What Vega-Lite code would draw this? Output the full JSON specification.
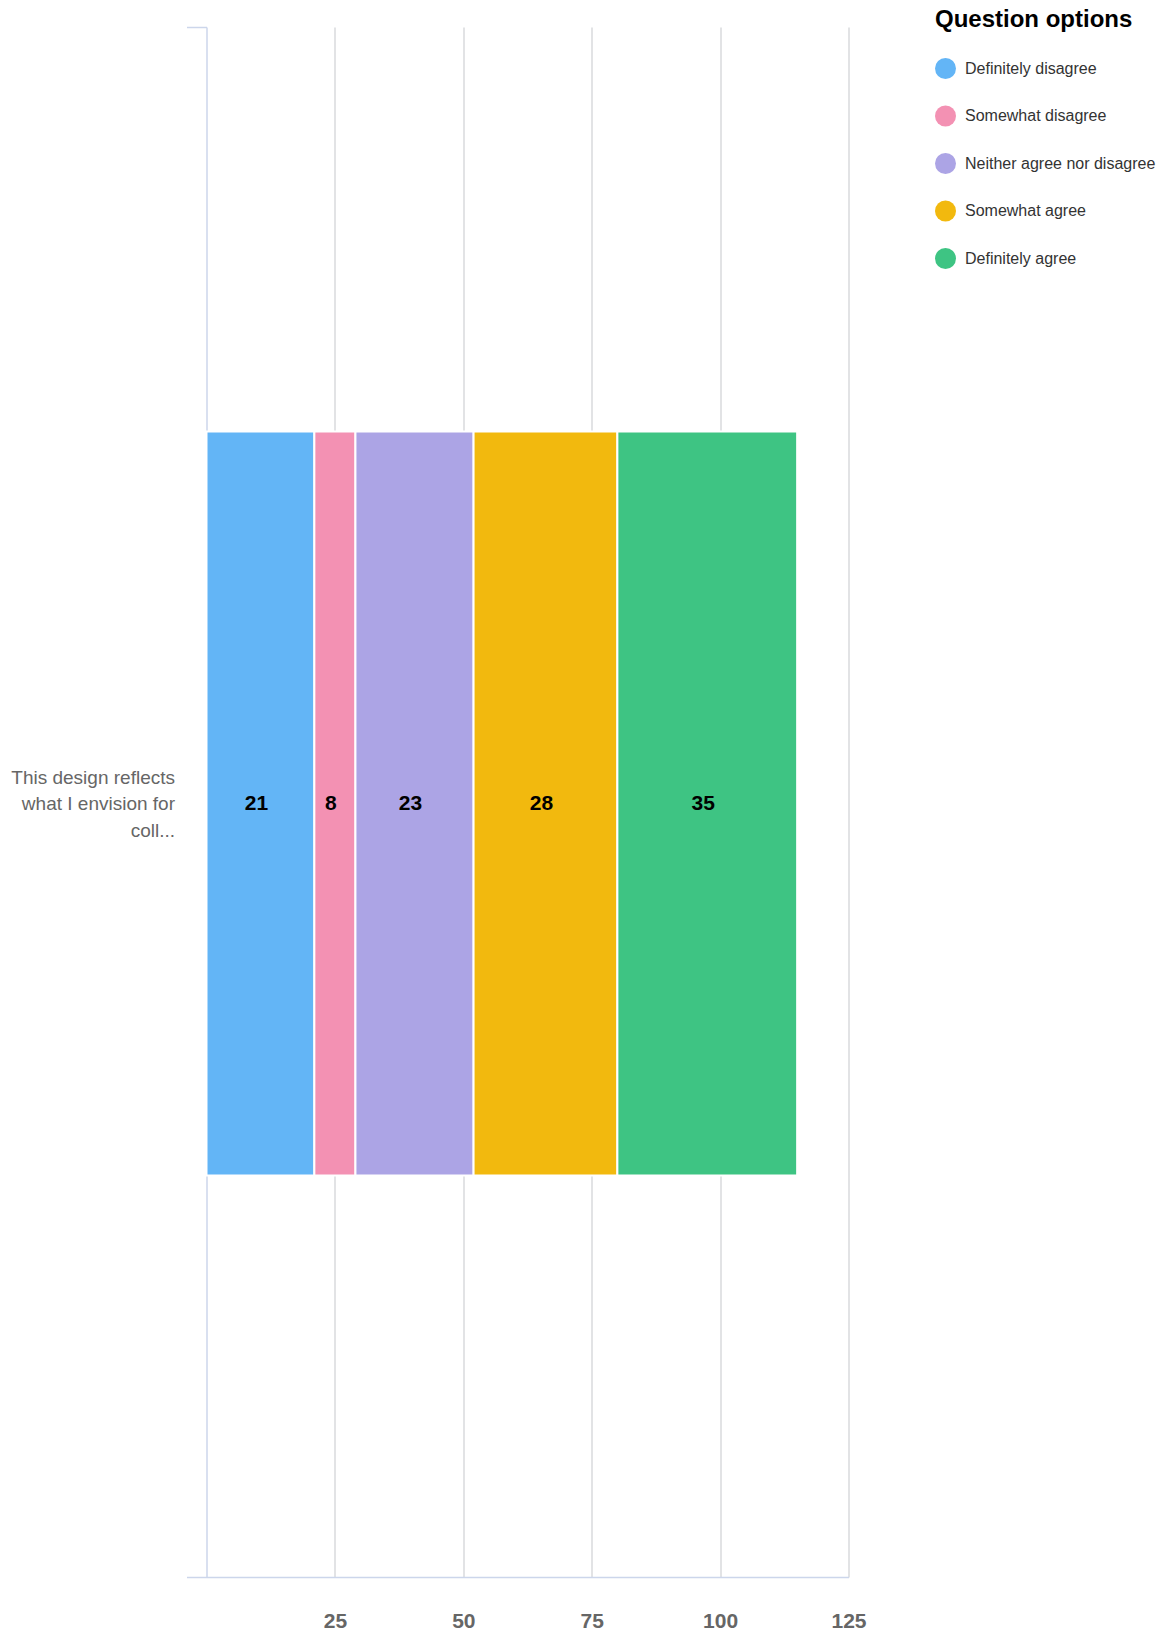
{
  "$schema": "https://vega.github.io/schema/vega-lite/v6.json",
  "autosize": {"type": "none"},
  "width": 642,
  "height": 1550,
  "padding": {"left": 206.5, "top": 27, "right": 313.5, "bottom": 55},
  "background": "#ffffff",
  "config": {
    "font": "Liberation Sans",
    "view": {"stroke": null}
  },
  "data": {
    "values": [
      {"question": "This design reflects what I envision for coll...", "option": "Definitely disagree", "rank": 1, "count": 21},
      {"question": "This design reflects what I envision for coll...", "option": "Somewhat disagree", "rank": 2, "count": 8},
      {"question": "This design reflects what I envision for coll...", "option": "Neither agree nor disagree", "rank": 3, "count": 23},
      {"question": "This design reflects what I envision for coll...", "option": "Somewhat agree", "rank": 4, "count": 28},
      {"question": "This design reflects what I envision for coll...", "option": "Definitely agree", "rank": 5, "count": 35}
    ]
  },
  "encoding": {
    "y": {
      "field": "question",
      "type": "nominal",
      "scale": {"paddingInner": 0, "paddingOuter": 0},
      "axis": {
        "title": null,
        "tickBand": "extent",
        "tickSize": 20,
        "tickColor": "#ccd6eb",
        "tickWidth": 1.5,
        "domainColor": "#ccd6eb",
        "domainWidth": 1.5,
        "labelFontSize": 19,
        "labelColor": "#666666",
        "labelPadding": 12,
        "labelLineHeight": 26.5,
        "labelAlign": "right",
        "labelBaseline": "middle",
        "labelOffset": -25,
        "labelLimit": 400,
        "labelExpr": "[slice(datum.label, 0, 20), slice(datum.label, 21, 40), slice(datum.label, 41)]",
        "grid": false
      }
    }
  },
  "layer": [
    {
      "mark": {"type": "bar", "height": {"band": 0.48}, "stroke": "#ffffff", "strokeWidth": 2, "yOffset": 1.5},
      "encoding": {
        "x": {
          "field": "count",
          "type": "quantitative",
          "stack": "zero",
          "scale": {"domain": [0, 125], "nice": false},
          "axis": {
            "title": null,
            "values": [25, 50, 75, 100, 125],
            "grid": true,
            "gridColor": "#d8dadd",
            "gridWidth": 1.5,
            "ticks": false,
            "domainColor": "#ccd6eb",
            "domainWidth": 1.5,
            "labelFontSize": 21,
            "labelFontWeight": "bold",
            "labelColor": "#666666",
            "labelPadding": 33,
            "labelFlush": false,
            "labelOverlap": false,
            "labelBound": false
          }
        },
        "order": {"field": "rank", "type": "quantitative"},
        "color": {
          "field": "option",
          "type": "nominal",
          "sort": ["Definitely disagree", "Somewhat disagree", "Neither agree nor disagree", "Somewhat agree", "Definitely agree"],
          "scale": {
            "domain": ["Definitely disagree", "Somewhat disagree", "Neither agree nor disagree", "Somewhat agree", "Definitely agree"],
            "range": ["#63b5f6", "#f391b3", "#aca4e5", "#f2b90e", "#3ec483"]
          },
          "legend": {
            "title": "Question options",
            "orient": "none",
            "legendX": 728.5,
            "legendY": -19,
            "direction": "vertical",
            "padding": 0,
            "titleFontSize": 24,
            "titleFontWeight": "bold",
            "titleColor": "#000000",
            "titlePadding": 26,
            "titleLimit": 400,
            "symbolType": "circle",
            "symbolSize": 441,
            "symbolStrokeWidth": 0,
            "symbolOpacity": 1,
            "labelFontSize": 16,
            "labelColor": "#333333",
            "labelOffset": 9,
            "labelLimit": 400,
            "rowPadding": 26.5
          }
        }
      }
    },
    {
      "mark": {"type": "text", "fontSize": 21, "fontWeight": "bold", "color": "#000000", "baseline": "middle", "align": "center", "dx": -4, "dy": 1.5},
      "encoding": {
        "x": {"field": "count", "type": "quantitative", "stack": "zero", "bandPosition": 0.5},
        "order": {"field": "rank", "type": "quantitative"},
        "text": {"field": "count", "type": "quantitative"}
      }
    }
  ]
}
